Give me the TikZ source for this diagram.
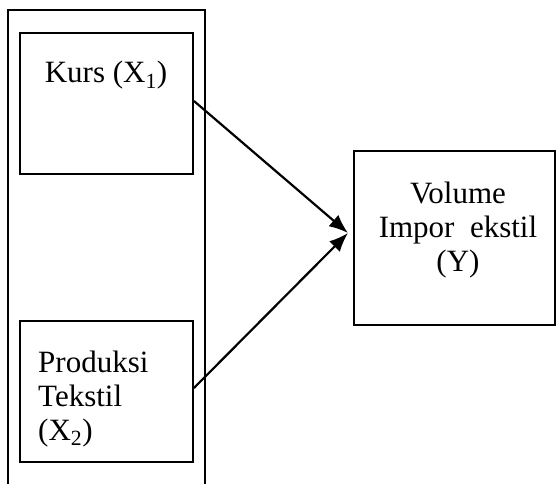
\documentclass[tikz,border=0pt]{standalone}
\usepackage{fontspec}
\setmainfont{Liberation Serif}
\usetikzlibrary{arrows.meta}
\begin{document}
\begin{tikzpicture}[x=1pt,y=-1pt,
  box/.style={draw,line width=1.9pt,rectangle,inner sep=0pt},
  lbl/.style={anchor=base,inner sep=0pt,font=\fontsize{31}{35}\selectfont},
  arr/.style={line width=2.2pt,-{Latex[length=19pt,width=15pt]}}]
\useasboundingbox (0,0) rectangle (557,484);
\node[box,minimum width=197pt,minimum height=480pt] (outer) at (106.5,250) {};
\node[box,minimum width=173pt,minimum height=141pt] (x1) at (106.5,103.5) {};
\node[box,minimum width=173pt,minimum height=141pt] (x2) at (106.5,391.5) {};
\node[box,minimum width=201pt,minimum height=174pt] (y) at (454.5,238) {};
\node[lbl] (t1) at (106,83) {Kurs (X\textsubscript{1})};
\node[lbl,anchor=base west] (t2a) at (38,372) {Produksi};
\node[lbl,anchor=base west] (t2b) at (38,406) {Tekstil};
\node[lbl,anchor=base west] (t2c) at (38,440) {(X\textsubscript{2})};
\node[lbl] (ta) at (458,203) {Volume};
\node[lbl] (tb) at (458,237) {Impor\ \ ekstil};
\node[lbl] (tc) at (458,271) {(Y)};
\coordinate (tip) at (348,233);
\draw[arr] ([yshift=2.5pt]x1.east) -- (tip);
\draw[arr] ([yshift=3.5pt]x2.east) -- (tip);
\end{tikzpicture}
\end{document}
